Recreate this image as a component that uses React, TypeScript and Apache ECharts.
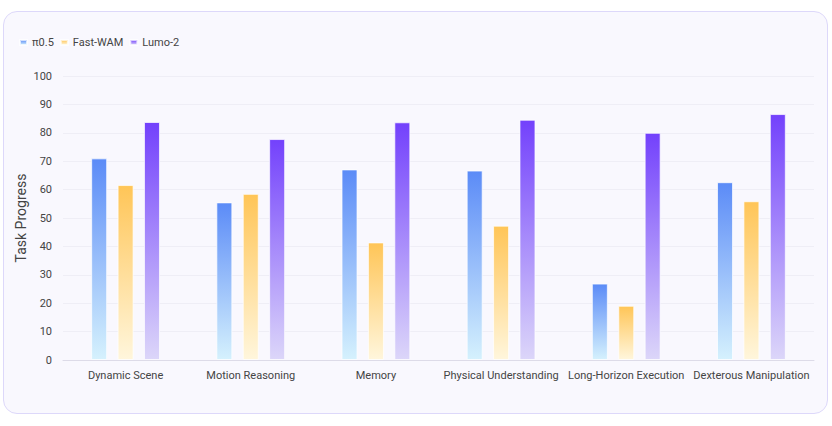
import React, { useEffect, useRef } from "react";
import * as echarts from "echarts";

const categories = [
  "Dynamic Scene",
  "Motion Reasoning",
  "Memory",
  "Physical Understanding",
  "Long-Horizon Execution",
  "Dexterous Manipulation",
];
const seriesNames = ["π0.5", "Fast-WAM", "Lumo-2"];
const pi05 = [71, 55.5, 67.1, 66.7, 26.9, 62.6];
const fastWam = [61.6, 58.5, 41.4, 47.3, 19.1, 55.9];
const lumo2 = [83.8, 77.8, 83.7, 84.6, 80.0, 86.6];
const yTicks = [0, 10, 20, 30, 40, 50, 60, 70, 80, 90, 100];

const grad = (top: string, bottom: string) =>
  new echarts.graphic.LinearGradient(0, 0, 0, 1, [
    { offset: 0, color: top },
    { offset: 1, color: bottom },
  ]);

export default function App() {
  const ref = useRef<HTMLDivElement>(null);
  useEffect(() => {
    if (!ref.current) return;
    const chart = echarts.init(ref.current, undefined, { renderer: "svg" });
    const font = "Roboto, 'Noto Sans', sans-serif";
    const colors = [
      grad("#5b8bf7", "#d5f1fd"),
      grad("#ffc557", "#fff6dc"),
      grad("#7341fc", "#dcd6f9"),
    ];
    const datas = [pi05, fastWam, lumo2];
    chart.setOption({
      animation: false,
      textStyle: { fontFamily: font },
      legend: {
        left: 14,
        top: 32,
        itemWidth: 7,
        itemHeight: 5,
        itemGap: 6,
        icon: "rect",
        textStyle: { fontSize: 11, color: "#444", fontFamily: font },
        data: seriesNames,
      },
      grid: { left: 63, right: 18, top: 76, bottom: 66, outerBoundsMode: "none" },
      xAxis: {
        type: "category",
        data: categories,
        axisLine: { lineStyle: { color: "#dddbe8" } },
        axisTick: { show: false },
        axisLabel: { color: "#444", fontSize: 11, margin: 10, interval: 0, fontFamily: font },
      },
      yAxis: {
        type: "value",
        min: yTicks[0],
        max: yTicks[yTicks.length - 1],
        interval: 10,
        name: "Task Progress",
        nameLocation: "middle",
        nameGap: 35,
        nameMoveOverlap: false,
        nameTextStyle: { fontSize: 14, color: "#444", fontFamily: font },
        axisLine: { show: false },
        axisTick: { show: false },
        axisLabel: { color: "#444", fontSize: 11, margin: 11, fontFamily: font },
        splitLine: { lineStyle: { color: "#efeef6" } },
      },
      series: seriesNames.map((name, i) => ({
        name,
        type: "bar",
        data: datas[i],
        barWidth: 16,
        barGap: "65%",
        itemStyle: {
          color: colors[i],
          borderColor: "rgba(255,255,255,0.7)",
          borderWidth: 1,
        },
      })),
    });
    return () => chart.dispose();
  }, []);
  return (
    <div style={{ position: "fixed", left: 0, top: 0, width: 832, height: 426, background: "#fff" }}>
      <div
        style={{
          position: "absolute",
          left: 3,
          top: 11,
          width: 823,
          height: 401,
          border: "1px solid #ddd8fa",
          borderRadius: 14,
          background: "#f9f8fe",
        }}
      />
      <div ref={ref} style={{ position: "absolute", left: 0, top: 0, width: 832, height: 426 }} />
    </div>
  );
}
